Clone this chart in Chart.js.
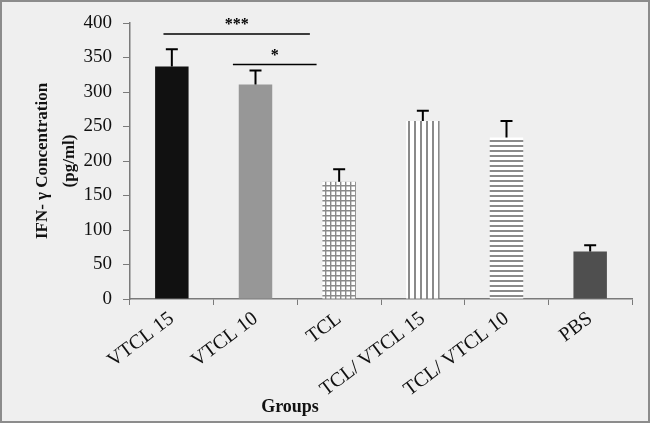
<!DOCTYPE html>
<html lang="en">

<head>
    <meta charset="UTF-8">
    <title>IFN-γ Concentration</title>
    <script src="https://cdn.jsdelivr.net/npm/chart.js"></script>
    <style>
        body { margin: 0; background: #ffffff; }
        #grafico { display: block; }
    </style>
</head>

<body>
    <canvas id="grafico" width="661" height="424"></canvas>
</body>

</html>

<script>

    // dados
    const grupos = ['VTCL 15', 'VTCL 10', 'TCL', 'TCL/ VTCL 15', 'TCL/ VTCL 10', 'PBS'];
    const concentracao = [337, 311, 170, 258, 234, 69];
    const erro = [25, 20, 18, 15, 24, 9];

    // linhas de significancia: de / ate (indice do grupo), altura (pg/ml), rotulo
    const sigDe = [-0.1, 0.73];
    const sigAte = [1.65, 1.73];
    const sigAltura = [384, 340];
    const sigRotulo = ['***', '*'];

    // padroes de hachura
    function padrao(tipo) {
        const c = document.createElement('canvas');
        const tam = tipo === 'grade' ? 5 : (tipo === 'vertical' ? 6 : 5);
        c.width = tam; c.height = tam;
        const ctx = c.getContext('2d');
        ctx.fillStyle = '#ffffff';
        ctx.fillRect(0, 0, tam, tam);
        ctx.strokeStyle = '#8a8a8a';
        ctx.beginPath();
        if (tipo === 'grade') {
            ctx.lineWidth = 1.4;
            ctx.moveTo(0.7, 0); ctx.lineTo(0.7, tam);
            ctx.moveTo(0, 0.7); ctx.lineTo(tam, 0.7);
        } else if (tipo === 'vertical') {
            ctx.lineWidth = 2;
            ctx.moveTo(1, 0); ctx.lineTo(1, tam);
        } else {
            ctx.lineWidth = 2;
            ctx.moveTo(0, 1); ctx.lineTo(tam, 1);
        }
        ctx.stroke();
        return ctx.createPattern(c, 'repeat');
    }

    const cores = [
        '#111111',
        '#979797',
        padrao('grade'),
        padrao('vertical'),
        padrao('horizontal'),
        '#4f4f4f'
    ];

    // fundo e moldura
    const fundo = {
        id: 'fundo',
        beforeDraw(chart) {
            const ctx = chart.ctx;
            ctx.save();
            ctx.fillStyle = '#ffffff';
            ctx.fillRect(0, 0, chart.width, chart.height);
            ctx.fillStyle = '#efefef';
            ctx.fillRect(1, 1, 648, 421);
            ctx.strokeStyle = '#8c8c8c';
            ctx.lineWidth = 2;
            ctx.strokeRect(1, 1, 648, 421);
            ctx.restore();
        }
    };

    // barras de erro, significancia e titulo do eixo x
    const extras = {
        id: 'extras',
        afterDatasetsDraw(chart) {
            const ctx = chart.ctx;
            const x = chart.scales.x;
            const y = chart.scales.y;
            ctx.save();
            ctx.strokeStyle = '#000000';
            ctx.lineWidth = 2;
            concentracao.forEach((v, i) => {
                const px = x.getPixelForValue(i);
                const topo = y.getPixelForValue(v + erro[i]);
                ctx.beginPath();
                ctx.moveTo(px, y.getPixelForValue(v));
                ctx.lineTo(px, topo);
                ctx.moveTo(px - 6, topo);
                ctx.lineTo(px + 6, topo);
                ctx.stroke();
            });

            ctx.lineWidth = 1.5;
            ctx.fillStyle = '#000000';
            ctx.font = 'bold 16px "Liberation Serif"';
            ctx.textAlign = 'center';
            ctx.textBaseline = 'middle';
            sigRotulo.forEach((r, i) => {
                const x1 = x.getPixelForValue(sigDe[i]);
                const x2 = x.getPixelForValue(sigAte[i]);
                const py = y.getPixelForValue(sigAltura[i]);
                ctx.beginPath();
                ctx.moveTo(x1, py);
                ctx.lineTo(x2, py);
                ctx.stroke();
                ctx.fillText(r, (x1 + x2) / 2, py - 9);
            });

            ctx.font = 'bold 18px "Liberation Serif"';
            ctx.fillStyle = '#111111';
            ctx.fillText('Groups', 290, 407);
            ctx.restore();
        }
    };

    const ctx = document.getElementById('grafico').getContext('2d');

    new Chart(ctx, {
        type: 'bar',
        data: {
            labels: grupos,
            datasets: [{
                data: concentracao,
                backgroundColor: cores,
                borderWidth: 0,
                barPercentage: 0.4,
                categoryPercentage: 1
            }]
        },
        options: {
            responsive: false,
            animation: false,
            events: [],
            layout: {
                padding: { top: 23, right: 29, bottom: 0, left: 0 }
            },
            plugins: {
                legend: { display: false },
                tooltip: { enabled: false }
            },
            scales: {
                x: {
                    afterFit: (s) => { s.height = 125; },
                    border: { color: '#7a7a7a', width: 1.5 },
                    grid: {
                        drawOnChartArea: false,
                        tickLength: 6,
                        color: '#7a7a7a'
                    },
                    ticks: {
                        minRotation: 37,
                        maxRotation: 37,
                        padding: 2,
                        color: '#111111',
                        font: { family: '"Liberation Serif"', size: 20 }
                    }
                },
                y: {
                    min: 0,
                    max: 400,
                    afterFit: (s) => { s.width = 130; },
                    border: { color: '#7a7a7a', width: 1.5 },
                    grid: {
                        drawOnChartArea: false,
                        tickLength: 7,
                        color: '#7a7a7a'
                    },
                    ticks: {
                        stepSize: 50,
                        padding: 11,
                        color: '#111111',
                        font: { family: '"Liberation Serif"', size: 19 }
                    },
                    title: {
                        display: true,
                        text: ['IFN- γ Concentration', '(pg/ml)'],
                        color: '#111111',
                        padding: { top: 29, bottom: 0 },
                        font: { family: '"Liberation Serif"', size: 17, weight: 'bold', lineHeight: 1.6 }
                    }
                }
            }
        },
        plugins: [fundo, extras]
    });

</script>
